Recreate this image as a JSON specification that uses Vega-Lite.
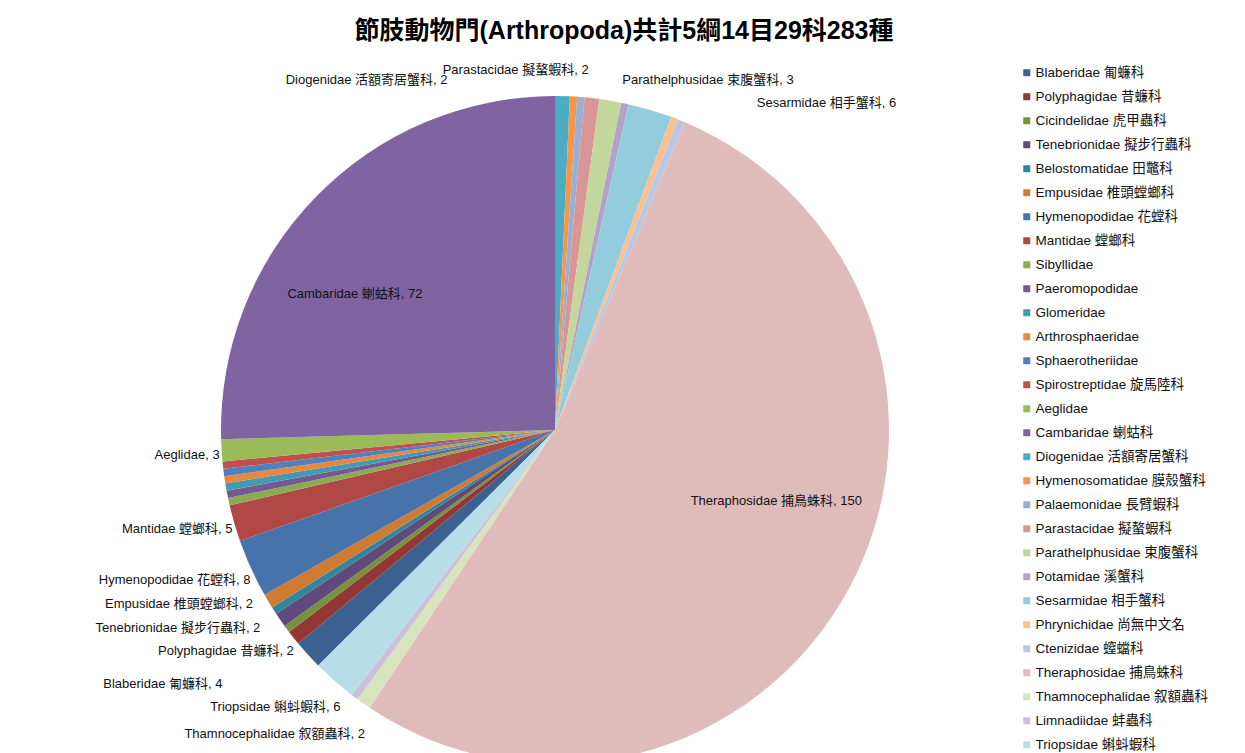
{
  "$schema": "https://vega.github.io/schema/vega-lite/v6.json",
  "width": 1110,
  "height": 646,
  "autosize": {"type": "none"},
  "padding": {"left": 0, "top": 107, "right": 135, "bottom": 0},
  "background": "#ffffff",
  "title": {"text": "節肢動物門(Arthropoda)共計5綱14目29科283種", "font": "Liberation Sans, Noto Sans CJK TC", "fontSize": 25, "fontWeight": "bold", "color": "#000000", "offset": 18, "dx": 69, "anchor": "middle"},
  "data": {"values": [
    {"i": 1, "name": "Blaberidae 匍蠊科", "count": 4},
    {"i": 2, "name": "Polyphagidae 昔蠊科", "count": 2},
    {"i": 3, "name": "Cicindelidae 虎甲蟲科", "count": 1},
    {"i": 4, "name": "Tenebrionidae 擬步行蟲科", "count": 2},
    {"i": 5, "name": "Belostomatidae 田鼈科", "count": 1},
    {"i": 6, "name": "Empusidae 椎頭螳螂科", "count": 2},
    {"i": 7, "name": "Hymenopodidae 花螳科", "count": 8},
    {"i": 8, "name": "Mantidae 螳螂科", "count": 5},
    {"i": 9, "name": "Sibyllidae", "count": 1},
    {"i": 10, "name": "Paeromopodidae", "count": 1},
    {"i": 11, "name": "Glomeridae", "count": 1},
    {"i": 12, "name": "Arthrosphaeridae", "count": 1},
    {"i": 13, "name": "Sphaerotheriidae", "count": 1},
    {"i": 14, "name": "Spirostreptidae 旋馬陸科", "count": 1},
    {"i": 15, "name": "Aeglidae", "count": 3},
    {"i": 16, "name": "Cambaridae 蝲蛄科", "count": 72},
    {"i": 17, "name": "Diogenidae 活額寄居蟹科", "count": 2},
    {"i": 18, "name": "Hymenosomatidae 膜殼蟹科", "count": 1},
    {"i": 19, "name": "Palaemonidae 長臂蝦科", "count": 1},
    {"i": 20, "name": "Parastacidae 擬螯蝦科", "count": 2},
    {"i": 21, "name": "Parathelphusidae 束腹蟹科", "count": 3},
    {"i": 22, "name": "Potamidae 溪蟹科", "count": 1},
    {"i": 23, "name": "Sesarmidae 相手蟹科", "count": 6},
    {"i": 24, "name": "Phrynichidae 尚無中文名", "count": 1},
    {"i": 25, "name": "Ctenizidae 螲蟷科", "count": 1},
    {"i": 26, "name": "Theraphosidae 捕鳥蛛科", "count": 150},
    {"i": 27, "name": "Thamnocephalidae 叙額蟲科", "count": 2},
    {"i": 28, "name": "Limnadiidae 蚌蟲科", "count": 1},
    {"i": 29, "name": "Triopsidae 蝌蚪蝦科", "count": 6}
  ]},
  "transform": [{"calculate": "datum.name + ', ' + datum.count", "as": "label"}],
  "encoding": {
    "theta": {"field": "count", "type": "quantitative", "stack": true, "scale": {"range": [3.92976, 10.21295]}},
    "order": {"field": "i", "type": "quantitative"}
  },
  "layer": [
    {
      "mark": {"type": "arc", "radius": 334},
      "encoding": {
        "color": {
          "field": "name", "type": "nominal",
          "scale": {
            "domain": ["Blaberidae 匍蠊科", "Polyphagidae 昔蠊科", "Cicindelidae 虎甲蟲科", "Tenebrionidae 擬步行蟲科", "Belostomatidae 田鼈科", "Empusidae 椎頭螳螂科", "Hymenopodidae 花螳科", "Mantidae 螳螂科", "Sibyllidae", "Paeromopodidae", "Glomeridae", "Arthrosphaeridae", "Sphaerotheriidae", "Spirostreptidae 旋馬陸科", "Aeglidae", "Cambaridae 蝲蛄科", "Diogenidae 活額寄居蟹科", "Hymenosomatidae 膜殼蟹科", "Palaemonidae 長臂蝦科", "Parastacidae 擬螯蝦科", "Parathelphusidae 束腹蟹科", "Potamidae 溪蟹科", "Sesarmidae 相手蟹科", "Phrynichidae 尚無中文名", "Ctenizidae 螲蟷科", "Theraphosidae 捕鳥蛛科", "Thamnocephalidae 叙額蟲科", "Limnadiidae 蚌蟲科", "Triopsidae 蝌蚪蝦科"],
            "range": ["#3B6190", "#943734", "#76923C", "#5F4A7B", "#31859C", "#D07B33", "#4573AA", "#B04945", "#8CAB50", "#735A93", "#439BB3", "#E8873F", "#4F81BD", "#C0504D", "#9BBB59", "#8064A2", "#4BACC6", "#F79646", "#98B0D6", "#D99694", "#C3D69B", "#B3A2C7", "#93CDDD", "#FAC090", "#B9C8E2", "#E0BBBB", "#D7E4BD", "#CCC1DA", "#B7DEE8"]
          },
          "legend": {
            "orient": "none", "legendX": 1020, "legendY": -41, "title": null,
            "symbolType": "square", "symbolSize": 49, "symbolStrokeWidth": 0,
            "labelFont": "Liberation Sans, Noto Sans CJK TC", "labelFontSize": 13.5, "labelColor": "#111111",
            "labelOffset": 2, "rowPadding": 9, "padding": 0, "labelLimit": 300, "columns": 1
          }
        }
      }
    },
    {
      "mark": {"type": "text", "radius": 340, "align": "right", "baseline": "middle", "dx": 4, "dy": 4, "font": "Liberation Sans, Noto Sans CJK TC", "fontSize": 13, "color": "#111111"},
      "encoding": {"text": {"condition": {"test": "datum.i == 15 || datum.i == 8", "field": "label"}, "value": ""}}
    },
    {
      "mark": {"type": "text", "radius": 340, "align": "right", "baseline": "middle", "dx": 5, "dy": 9, "font": "Liberation Sans, Noto Sans CJK TC", "fontSize": 13, "color": "#111111"},
      "encoding": {"text": {"condition": {"test": "datum.i == 7 || datum.i == 2", "field": "label"}, "value": ""}}
    },
    {
      "mark": {"type": "text", "radius": 340, "align": "right", "baseline": "middle", "dx": -10, "dy": 0, "font": "Liberation Sans, Noto Sans CJK TC", "fontSize": 13, "color": "#111111"},
      "encoding": {"text": {"condition": {"test": "datum.i == 6", "field": "label"}, "value": ""}}
    },
    {
      "mark": {"type": "text", "radius": 340, "align": "right", "baseline": "middle", "dx": -15, "dy": 5, "font": "Liberation Sans, Noto Sans CJK TC", "fontSize": 13, "color": "#111111"},
      "encoding": {"text": {"condition": {"test": "datum.i == 4", "field": "label"}, "value": ""}}
    },
    {
      "mark": {"type": "text", "radius": 340, "align": "right", "baseline": "middle", "dx": -81, "dy": 25, "font": "Liberation Sans, Noto Sans CJK TC", "fontSize": 13, "color": "#111111"},
      "encoding": {"text": {"condition": {"test": "datum.i == 1", "field": "label"}, "value": ""}}
    },
    {
      "mark": {"type": "text", "radius": 340, "align": "right", "baseline": "middle", "dx": 10, "dy": 22, "font": "Liberation Sans, Noto Sans CJK TC", "fontSize": 13, "color": "#111111"},
      "encoding": {"text": {"condition": {"test": "datum.i == 29", "field": "label"}, "value": ""}}
    },
    {
      "mark": {"type": "text", "radius": 340, "align": "right", "baseline": "middle", "dx": 5, "dy": 25, "font": "Liberation Sans, Noto Sans CJK TC", "fontSize": 13, "color": "#111111"},
      "encoding": {"text": {"condition": {"test": "datum.i == 27", "field": "label"}, "value": ""}}
    },
    {
      "mark": {"type": "text", "radius": 340, "align": "right", "baseline": "middle", "dx": -115, "dy": -10, "font": "Liberation Sans, Noto Sans CJK TC", "fontSize": 13, "color": "#111111"},
      "encoding": {"text": {"condition": {"test": "datum.i == 17", "field": "label"}, "value": ""}}
    },
    {
      "mark": {"type": "text", "radius": 340, "align": "center", "baseline": "middle", "dx": -77, "dy": -22, "font": "Liberation Sans, Noto Sans CJK TC", "fontSize": 13, "color": "#111111"},
      "encoding": {"text": {"condition": {"test": "datum.i == 20", "field": "label"}, "value": ""}}
    },
    {
      "mark": {"type": "text", "radius": 340, "align": "left", "baseline": "middle", "dx": 11, "dy": -15, "font": "Liberation Sans, Noto Sans CJK TC", "fontSize": 13, "color": "#111111"},
      "encoding": {"text": {"condition": {"test": "datum.i == 21", "field": "label"}, "value": ""}}
    },
    {
      "mark": {"type": "text", "radius": 340, "align": "left", "baseline": "middle", "dx": 105, "dy": -1, "font": "Liberation Sans, Noto Sans CJK TC", "fontSize": 13, "color": "#111111"},
      "encoding": {"text": {"condition": {"test": "datum.i == 23", "field": "label"}, "value": ""}}
    },
    {
      "mark": {"type": "text", "radius": 240, "align": "center", "baseline": "middle", "dx": -28, "dy": 31, "font": "Liberation Sans, Noto Sans CJK TC", "fontSize": 13, "color": "#111111"},
      "encoding": {"text": {"condition": {"test": "datum.i == 16", "field": "label"}, "value": ""}}
    },
    {
      "mark": {"type": "text", "radius": 232, "align": "center", "baseline": "middle", "dx": 17, "dy": -39, "font": "Liberation Sans, Noto Sans CJK TC", "fontSize": 13, "color": "#111111"},
      "encoding": {"text": {"condition": {"test": "datum.i == 26", "field": "label"}, "value": ""}}
    }
  ],
  "config": {"view": {"stroke": null}}
}
